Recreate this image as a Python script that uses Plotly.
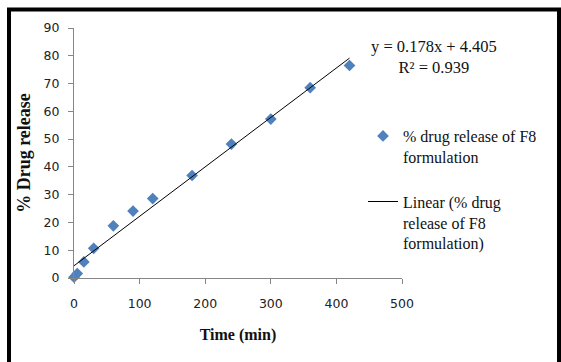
import plotly.graph_objects as go

# Data
time_min = [0, 5, 15, 30, 60, 90, 120, 180, 240, 300, 360, 420]
drug_release = [0.3, 1.6, 5.8, 10.7, 18.8, 24.1, 28.6, 36.9, 48.2, 57.2, 68.5, 76.5]
trend_slope = 0.178
trend_intercept = 4.405
trend_r2 = 0.939
trend_x = [0, 420]
x_ticks = [0, 100, 200, 300, 400, 500]
y_ticks = [0, 10, 20, 30, 40, 50, 60, 70, 80, 90]

trend_y = [trend_slope * x + trend_intercept for x in trend_x]

# Plot area in pixels
L, R, T, B = 74, 402, 28, 278
W, H = 561, 362

def px(xp):
    return (xp - L) / (R - L)

def py(yp):
    return (B - yp) / (B - T)

fig = go.Figure()
fig.add_trace(go.Scatter(
    x=time_min, y=drug_release, mode="markers",
    name="% drug release of F8<br>formulation",
    legendgroup="a",
    marker=dict(symbol="diamond", size=9, color="#4F81BD"),
    cliponaxis=False,
))
fig.add_trace(go.Scatter(
    x=trend_x, y=trend_y, mode="lines",
    name="Linear (% drug<br>release of F8<br>formulation)",
    legendgroup="b",
    line=dict(color="black", width=1),
    cliponaxis=False,
))

serif = "Liberation Serif"
fig.update_layout(
    width=W, height=H,
    margin=dict(l=L, r=W - R, t=T, b=H - B, pad=0),
    paper_bgcolor="white", plot_bgcolor="white",
    showlegend=True,
    legend=dict(
        x=px(363), y=py(119), xanchor="left", yanchor="top",
        font=dict(family=serif, size=16, color="#111"),
        bgcolor="rgba(0,0,0,0)", valign="top",
        tracegroupgap=21, traceorder="grouped",
    ),
    xaxis=dict(
        range=[0, 500], tickvals=x_ticks, ticks="outside", ticklen=5,
        tickcolor="#868686", showline=True, linecolor="#868686", linewidth=1,
        showgrid=False, zeroline=False,
        tickfont=dict(family="DejaVu Sans", size=12.5, color="#222"),
        ticklabelstandoff=9,
        title=dict(text="<b>Time (min)</b>", font=dict(family=serif, size=16, color="#111"), standoff=18),
    ),
    yaxis=dict(
        range=[0, 90], tickvals=y_ticks, ticks="outside", ticklen=5,
        tickcolor="#868686", showline=True, linecolor="#868686", linewidth=1,
        showgrid=False, zeroline=False,
        tickfont=dict(family="DejaVu Sans", size=12.5, color="#222"),
        ticklabelstandoff=6,
        title=dict(text="<b>% Drug release</b>", font=dict(family=serif, size=18, color="#111"), standoff=8),
    ),
    annotations=[dict(
        xref="paper", yref="paper", x=px(434), y=py(57),
        text=f"y = {trend_slope}x + {trend_intercept}<br>R² = {trend_r2}",
        showarrow=False, align="center", xanchor="center", yanchor="middle",
        font=dict(family=serif, size=16.5, color="#111"),
    )],
    shapes=[dict(
        type="rect", xref="paper", yref="paper",
        x0=px(9), x1=px(559), y0=py(370), y1=py(9.5),
        line=dict(color="black", width=4), layer="below",
    )],
)

fig.write_html("out.html")
